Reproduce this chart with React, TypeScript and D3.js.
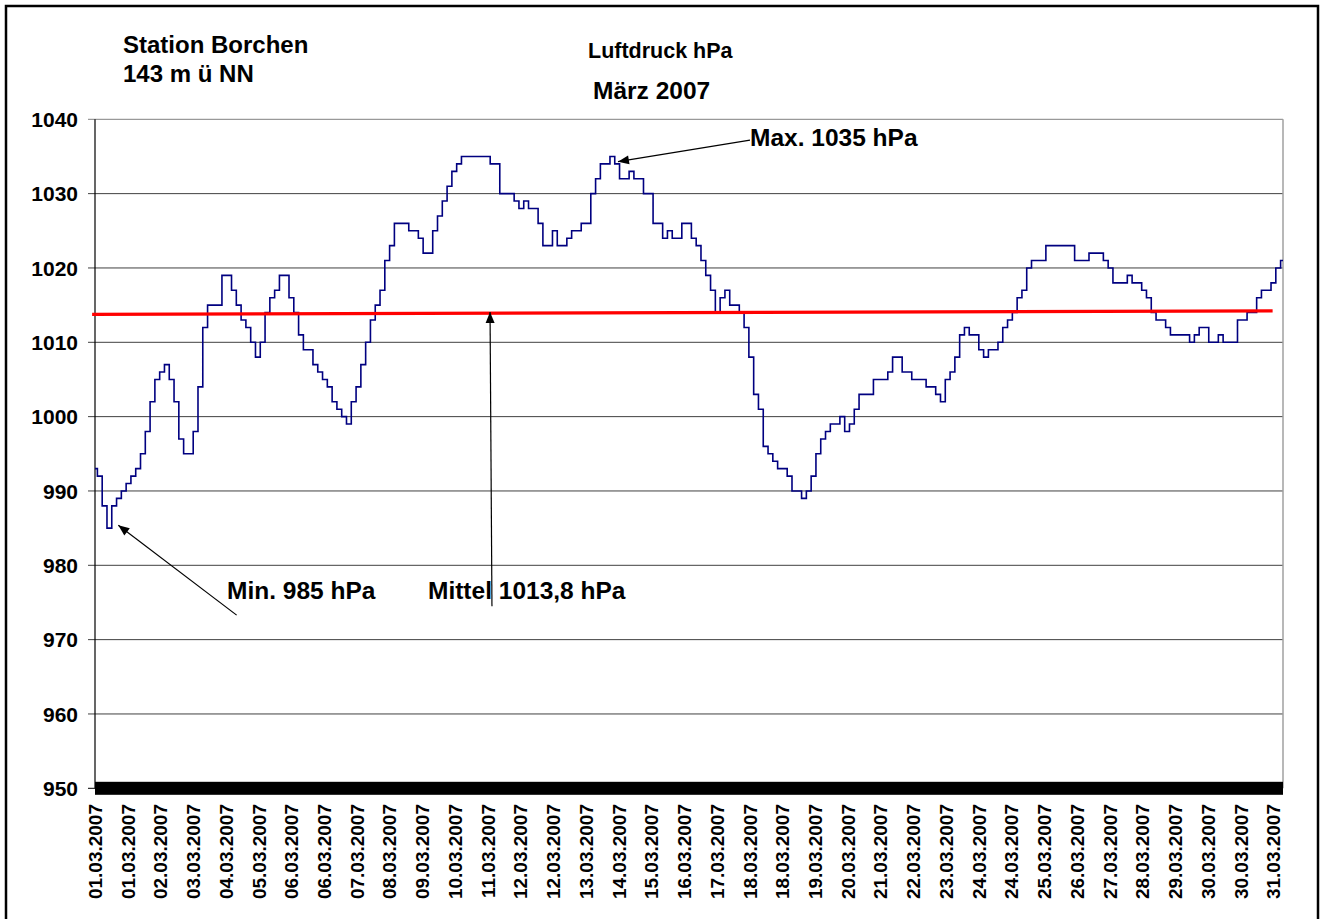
import React from 'react';
import * as d3 from 'd3';

const week1 = [
  993, 992, 988, 985, 988, 989, 990, 991,
  992, 993, 995, 998, 1002, 1005, 1006, 1007,
  1005, 1002, 997, 995, 995, 998, 1004, 1012,
  1015, 1015, 1015, 1019, 1019, 1017, 1015, 1013,
  1012, 1010, 1008, 1010, 1014, 1016, 1017, 1019,
  1019, 1016, 1014, 1011, 1009, 1009, 1007, 1006,
  1005, 1004, 1002, 1001, 1000, 999, 1002, 1004,
];
const week2 = [
  1007, 1010, 1013, 1015, 1017, 1021, 1023, 1026,
  1026, 1026, 1025, 1025, 1024, 1022, 1022, 1025,
  1027, 1029, 1031, 1033, 1034, 1035, 1035, 1035,
  1035, 1035, 1035, 1034, 1034, 1030, 1030, 1030,
  1029, 1028, 1029, 1028, 1028, 1026, 1023, 1023,
  1025, 1023, 1023, 1024, 1025, 1025, 1026, 1026,
  1030, 1032, 1034, 1034, 1035, 1034, 1032, 1032,
];
const week3 = [
  1033, 1032, 1032, 1030, 1030, 1026, 1026, 1024,
  1025, 1024, 1024, 1026, 1026, 1024, 1023, 1021,
  1019, 1017, 1014, 1016, 1017, 1015, 1015, 1014,
  1012, 1008, 1003, 1001, 996, 995, 994, 993,
  993, 992, 990, 990, 989, 990, 992, 995,
  997, 998, 999, 999, 1000, 998, 999, 1001,
  1003, 1003, 1003, 1005, 1005, 1005, 1006, 1008,
];
const week4 = [
  1008, 1006, 1006, 1005, 1005, 1005, 1004, 1004,
  1003, 1002, 1005, 1006, 1008, 1011, 1012, 1011,
  1011, 1009, 1008, 1009, 1009, 1010, 1012, 1013,
  1014, 1016, 1017, 1020, 1021, 1021, 1021, 1023,
  1023, 1023, 1023, 1023, 1023, 1021, 1021, 1021,
  1022, 1022, 1022, 1021, 1020, 1018, 1018, 1018,
  1019, 1018, 1018, 1017, 1016, 1014, 1013, 1013,
];
const week5 = [
  1012, 1011, 1011, 1011, 1011, 1010, 1011, 1012,
  1012, 1010, 1010, 1011, 1010, 1010, 1010, 1013,
  1013, 1014, 1014, 1016, 1017, 1017, 1018, 1020,
  1021,
];

const xTickLabels = [
  '01.03.2007', '01.03.2007', '02.03.2007', '03.03.2007', '04.03.2007', '05.03.2007',
  '06.03.2007', '06.03.2007', '07.03.2007', '08.03.2007', '09.03.2007', '10.03.2007',
  '11.03.2007', '12.03.2007', '12.03.2007', '13.03.2007', '14.03.2007', '15.03.2007',
  '16.03.2007', '17.03.2007', '18.03.2007', '18.03.2007', '19.03.2007', '20.03.2007',
  '21.03.2007', '22.03.2007', '23.03.2007', '24.03.2007', '24.03.2007', '25.03.2007',
  '26.03.2007', '27.03.2007', '28.03.2007', '29.03.2007', '30.03.2007', '30.03.2007',
  '31.03.2007',
];
const yTicks = [950, 960, 970, 980, 990, 1000, 1010, 1020, 1030, 1040];

// red mean line (drawn shape, slightly tilted in the original)
const meanLine = [
  { hour: -1.8, value: 1013.76 },
  { hour: 737.5, value: 1014.24 },
];

// arrows: tail -> tip, in (hour, hPa)
const arrows = [
  { from: [88.7, 973.3], to: [14.6, 985.4] },
  { from: [410.2, 1037.2], to: [327.5, 1034.3] },
  { from: [248.6, 974.5], to: [247.4, 1014.07] },
];

const FONT = '"Liberation Sans", Arial, Helvetica, sans-serif';

export default function App() {
  const width = 1325;
  const height = 919;
  const left = 95;
  const right = 1283;
  const top = 119.3;
  const bottom = 788.3;

  const x = d3.scaleLinear().domain([0, 744]).range([left, right]);
  const y = d3.scaleLinear().domain([950, 1040]).range([bottom, top]);

  const series = [...week1, ...week2, ...week3, ...week4, ...week5];
  const points = series.map((v, i) => ({ hour: Math.min(i * 3, 744), value: v }));

  const line = d3
    .line<{ hour: number; value: number }>()
    .x((d) => x(d.hour))
    .y((d) => y(d.value))
    .curve(d3.curveStep);

  const labelStep = 20.5; // hours between category labels

  const arrowHead = (fx: number, fy: number, tx: number, ty: number) => {
    const a = Math.atan2(ty - fy, tx - fx);
    const len = 11;
    const w = 4.5;
    const bx = tx - len * Math.cos(a);
    const by = ty - len * Math.sin(a);
    const px = -Math.sin(a) * w;
    const py = Math.cos(a) * w;
    return `M${tx},${ty}L${bx + px},${by + py}L${bx - px},${by - py}Z`;
  };

  return (
    <svg
      width={width}
      height={height}
      style={{ position: 'absolute', left: 0, top: 0, background: '#fff' }}
      fontFamily={FONT}
      fontWeight="bold"
    >
      <rect x={0} y={0} width={width} height={height} fill="#fff" />
      {/* outer frame */}
      <rect x={6} y={6} width={1312} height={930} fill="none" stroke="#000" strokeWidth={2.5} />

      {/* gridlines + y ticks */}
      {yTicks.map((t) => (
        <g key={t}>
          {t !== 950 && (
            <line
              x1={left - 7}
              x2={right}
              y1={y(t)}
              y2={y(t)}
              stroke={t === 1040 ? '#808080' : '#404040'}
              strokeWidth={1}
            />
          )}
          {t === 950 && <line x1={left - 7} x2={left} y1={y(t)} y2={y(t)} stroke="#000" />}
          <text x={78} y={y(t)} dy="0.36em" textAnchor="end" fontSize={21}>
            {t}
          </text>
        </g>
      ))}

      {/* plot right border */}
      <line x1={right} x2={right} y1={top} y2={bottom} stroke="#a0a0a0" strokeWidth={1.5} />

      {/* y axis */}
      <line x1={left} x2={left} y1={top} y2={bottom} stroke="#000" strokeWidth={1.2} />

      {/* heavy category axis */}
      <rect x={left} y={y(950) - 6.5} width={right - left} height={13} fill="#000" />

      {/* x labels */}
      {xTickLabels.map((lab, i) => {
        const xx = x(i * labelStep);
        return (
          <text
            key={i}
            transform={`translate(${xx},804) rotate(-90)`}
            dy="0.36em"
            textAnchor="end"
            fontSize={19}
          >
            {lab}
          </text>
        );
      })}

      {/* pressure series */}
      <path d={line(points) || ''} fill="none" stroke="#000080" strokeWidth={1.6} />

      {/* mean line */}
      <line
        x1={x(meanLine[0].hour)}
        y1={y(meanLine[0].value)}
        x2={x(meanLine[1].hour)}
        y2={y(meanLine[1].value)}
        stroke="#ff0000"
        strokeWidth={3.2}
      />

      {/* arrows */}
      {arrows.map((a, i) => {
        const fx = x(a.from[0]);
        const fy = y(a.from[1]);
        const tx = x(a.to[0]);
        const ty = y(a.to[1]);
        return (
          <g key={i}>
            <line x1={fx} y1={fy} x2={tx} y2={ty} stroke="#000" strokeWidth={1.2} />
            <path d={arrowHead(fx, fy, tx, ty)} fill="#000" />
          </g>
        );
      })}

      {/* titles and notes */}
      <text x={123} y={53} fontSize={24}>Station Borchen</text>
      <text x={123} y={82} fontSize={24}>143 m ü NN</text>
      <text x={588} y={58} fontSize={21.5}>Luftdruck hPa</text>
      <text x={593} y={99} fontSize={24.5}>März 2007</text>
      <text x={750} y={146} fontSize={24.5}>Max. 1035 hPa</text>
      <text x={227} y={599} fontSize={24.5}>Min. 985 hPa</text>
      <text x={428} y={599} fontSize={24.5}>Mittel 1013,8 hPa</text>
    </svg>
  );
}
